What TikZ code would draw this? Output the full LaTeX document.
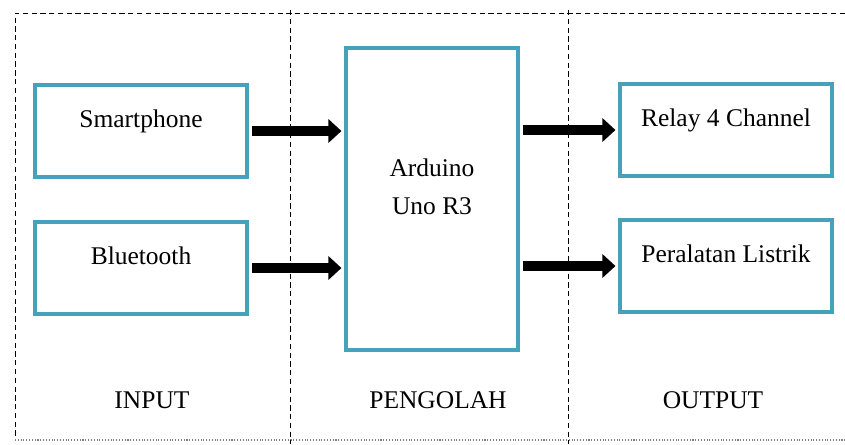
\documentclass[tikz,border=0pt]{standalone}
\usepackage{fontspec}
\setmainfont{Liberation Serif}
\usetikzlibrary{arrows.meta}
\definecolor{kotak}{RGB}{70,162,186}
\tikzset{
  blok/.style={draw=kotak,line width=2.2pt,minimum width=4.24cm,minimum height=1.84cm,
    align=center,text depth=.5cm,font=\fontsize{14.5}{22}\selectfont},
  panah/.style={line width=5.5pt,-{Triangle[length=.26cm,width=.46cm]},shorten <=1.5pt,shorten >=1.5pt},
  garis/.style={densely dashed,line width=.5pt},
  judul/.style={font=\fontsize{14.5}{17}\selectfont}
}
\begin{document}
\begin{tikzpicture}[x=.02cm,y=-.02cm]
\useasboundingbox (0,0) rectangle (845,444);
% bingkai dan pembagi kolom
\draw[garis] (845,13)--(15,13)--(15,440);
\draw[gray,densely dotted,line width=.6pt] (15,440)--(845,440);
\draw[garis] (290,10)--(290,444); \draw[garis] (568,10)--(568,444);
% blok
\node[blok] (hp) at (141,131) {Smartphone};
\node[blok] (bt) at (141,268) {Bluetooth};
\node[blok,minimum width=3.44cm,minimum height=6.04cm] (uno) at (432,199) {Arduino\\Uno R3};
\node[blok] (relay) at (726,130) {Relay 4 Channel};
\node[blok] (alat) at (726,266) {Peralatan Listrik};
% panah
\draw[panah] (hp.east)--(hp.east -| uno.west);
\draw[panah] (bt.east)--(bt.east -| uno.west);
\draw[panah] (relay.west -| uno.east)--(relay.west);
\draw[panah] (alat.west -| uno.east)--(alat.west);
\node[judul] (in) at (152,400){INPUT}; \node[judul] (proses) at (438,400){PENGOLAH};
\node[judul] (out) at (713,400){OUTPUT};
\end{tikzpicture}
\end{document}
